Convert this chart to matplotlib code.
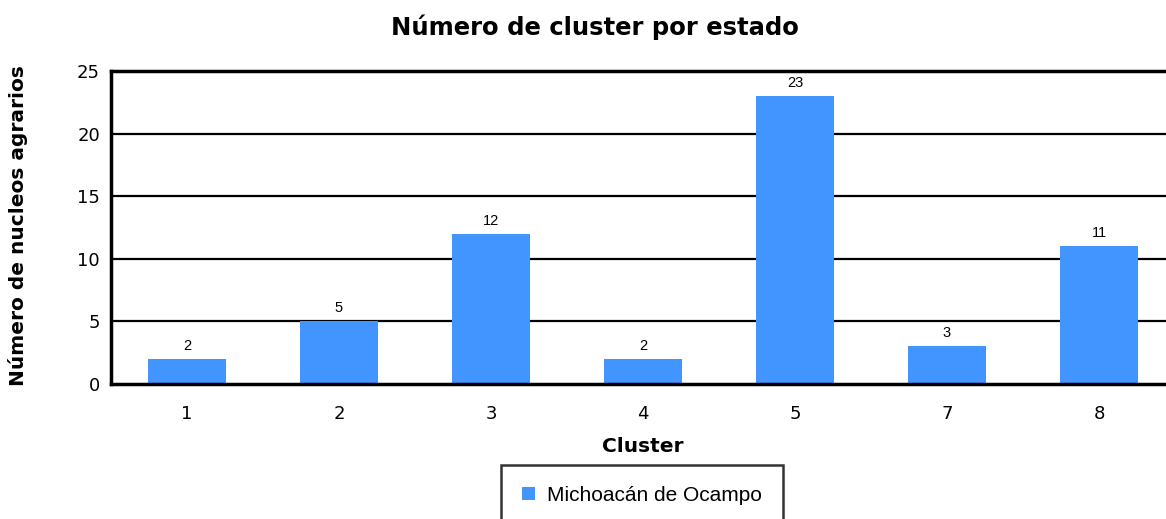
import numpy as np
import matplotlib.pyplot as plt

clusters = ['1', '2', '3', '4', '5', '7', '8']
counts = [2, 5, 12, 2, 23, 3, 11]
series = 'Michoacán de Ocampo'
yticks = [0, 5, 10, 15, 20, 25]

bar_color = '#4294ff'

fig = plt.figure(figsize=(11.66, 5.19), dpi=100)
ax = fig.add_axes([0.0952, 0.2601, 0.9125, 0.6031])

x = np.arange(len(clusters))
ax.bar(x, counts, width=0.51, color=bar_color, label=series, zorder=3)

# value labels above bars
for xi, v in zip(x, counts):
    ax.text(xi, v + 0.5, str(v), ha='center', va='bottom', fontsize=10.5,
            family='Liberation Sans', zorder=4)

ax.set_xlim(-0.5, len(clusters) - 0.5)
ax.set_ylim(0, 25)
ax.set_yticks(yticks)
ax.set_xticks(x)
ax.set_xticklabels(clusters)
ax.tick_params(axis='both', length=0, labelsize=13, pad=8)
ax.tick_params(axis='x', pad=15)

for t in yticks[1:-1]:
    ax.axhline(t, color='black', lw=1.6, zorder=1)

ax.spines['right'].set_visible(False)
ax.spines['top'].set_linewidth(2.5)
ax.spines['left'].set_linewidth(2.5)
ax.spines['bottom'].set_linewidth(2.5)
ax.spines['bottom'].set_zorder(5)

fig.text(0.510, 0.948, 'Número de cluster por estado', ha='center', va='center',
         fontsize=17.5, fontweight='bold')
fig.text(0.0155, 0.5649, 'Número de nucleos agrarios', ha='center', va='center',
         rotation=90, fontsize=14.5, fontweight='bold')
ax.set_xlabel('Cluster', fontsize=14.5, fontweight='bold', labelpad=10)

leg = ax.legend(loc='upper center', bbox_to_anchor=(0.4993, -0.259), frameon=True,
                fancybox=False, edgecolor='black', handlelength=0.6,
                handleheight=0.6, handletextpad=0.6, borderpad=1.0,
                borderaxespad=0, prop={'family': 'Liberation Sans', 'size': 15})
leg.get_frame().set_linewidth(1.8)

fig.savefig('out.png', dpi=100)
